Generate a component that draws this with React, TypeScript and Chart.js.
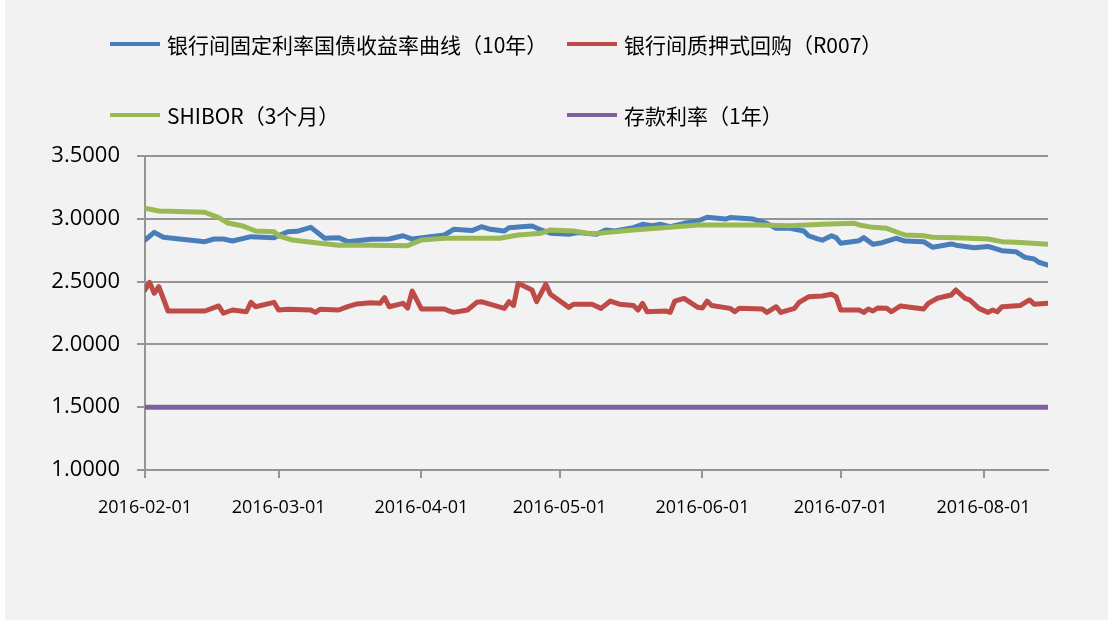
import React, { useEffect, useRef } from "react";
import { Chart, registerables } from "chart.js";

Chart.register(...registerables);

// Day offsets are counted from 2016-02-01 (day 0).
const monthTickDays = [0, 29, 60, 90, 121, 151, 182];
const monthTickLabels = ["2016-02-01", "2016-03-01", "2016-04-01", "2016-05-01", "2016-06-01", "2016-07-01", "2016-08-01"];
const lastDay = 196;

const seriesNames = ["银行间固定利率国债收益率曲线（10年）", "银行间质押式回购（R007）", "SHIBOR（3个月）", "存款利率（1年）"];
const seriesColors = ["#4A7EBB", "#BE4B48", "#98B954", "#7D60A0"];

const bondDays = [0, 2, 4, 13, 15, 17, 19, 23, 28, 31, 33, 36, 39, 42, 44, 49, 53, 56, 58, 65, 67, 71, 73, 75, 78, 79, 81, 84, 86, 88, 92, 94, 98, 100, 102, 106, 108, 110, 112, 114, 117, 120, 122, 126, 127, 132, 135, 137, 140, 143, 144, 146, 147, 149, 150, 151, 155, 156, 158, 160, 163, 165, 169, 171, 175, 176, 180, 183, 186, 189, 191, 193, 194, 196];
const bondValues = [2.831, 2.892, 2.853, 2.818, 2.839, 2.839, 2.823, 2.858, 2.85, 2.897, 2.9, 2.932, 2.845, 2.85, 2.818, 2.837, 2.839, 2.865, 2.839, 2.871, 2.916, 2.906, 2.937, 2.916, 2.903, 2.929, 2.934, 2.943, 2.911, 2.885, 2.877, 2.89, 2.877, 2.911, 2.903, 2.929, 2.956, 2.945, 2.956, 2.937, 2.964, 2.982, 3.012, 2.998, 3.01, 2.998, 2.964, 2.924, 2.924, 2.903, 2.865, 2.84, 2.83, 2.865, 2.85, 2.805, 2.826, 2.85, 2.797, 2.81, 2.845, 2.823, 2.818, 2.773, 2.8, 2.79, 2.77, 2.78, 2.746, 2.738, 2.693, 2.68, 2.654, 2.632];

const repoDays = [0, 1, 2, 3, 5, 13, 16, 17, 19, 22, 23, 24, 28, 29, 31, 36, 37, 38, 42, 44, 46, 49, 51, 52, 53, 56, 57, 58, 60, 65, 66, 67, 70, 72, 73, 78, 79, 80, 81, 84, 85, 87, 88, 92, 93, 97, 99, 101, 103, 106, 107, 108, 109, 113, 114, 115, 117, 120, 121, 122, 123, 127, 128, 129, 134, 135, 137, 138, 141, 142, 144, 147, 149, 150, 151, 155, 156, 157, 158, 159, 161, 162, 164, 169, 170, 172, 175, 176, 178, 179, 181, 183, 184, 185, 186, 190, 192, 193, 196];
const repoValues = [2.433, 2.494, 2.407, 2.459, 2.266, 2.266, 2.306, 2.248, 2.274, 2.26, 2.335, 2.3, 2.335, 2.274, 2.28, 2.274, 2.255, 2.28, 2.274, 2.3, 2.322, 2.332, 2.327, 2.372, 2.3, 2.327, 2.29, 2.425, 2.282, 2.282, 2.266, 2.255, 2.274, 2.335, 2.34, 2.287, 2.34, 2.31, 2.486, 2.433, 2.34, 2.479, 2.399, 2.295, 2.32, 2.32, 2.287, 2.345, 2.32, 2.31, 2.274, 2.327, 2.26, 2.266, 2.255, 2.345, 2.367, 2.295, 2.29, 2.345, 2.31, 2.287, 2.26, 2.287, 2.282, 2.255, 2.3, 2.255, 2.287, 2.335, 2.379, 2.385, 2.399, 2.38, 2.274, 2.274, 2.255, 2.282, 2.266, 2.29, 2.287, 2.26, 2.306, 2.282, 2.327, 2.367, 2.393, 2.433, 2.367, 2.354, 2.287, 2.255, 2.274, 2.26, 2.3, 2.31, 2.354, 2.32, 2.327];

const shiborDays = [0, 3, 13, 16, 18, 21, 24, 28, 29, 32, 37, 42, 49, 57, 60, 65, 77, 81, 86, 88, 93, 97, 106, 111, 120, 133, 140, 147, 154, 155, 158, 161, 163, 165, 169, 171, 176, 183, 186, 189, 196];
const shiborValues = [3.084, 3.062, 3.052, 3.009, 2.966, 2.945, 2.903, 2.897, 2.865, 2.831, 2.81, 2.79, 2.79, 2.786, 2.831, 2.845, 2.845, 2.871, 2.885, 2.911, 2.903, 2.88, 2.911, 2.924, 2.951, 2.951, 2.945, 2.956, 2.964, 2.951, 2.932, 2.924, 2.897, 2.871, 2.865, 2.853, 2.85, 2.839, 2.818, 2.813, 2.797];

const depositDays = [0, 196];
const depositValues = [1.5, 1.5];

const yMin = 1;
const yMax = 3.5;
const yStep = 0.5;

const toPoints = (days: number[], vals: number[]) => days.map((d, i) => ({ x: d, y: vals[i] }));

const legendPositions = [
  { left: 110, top: 45 },
  { left: 567, top: 45 },
  { left: 110, top: 116 },
  { left: 567, top: 116 },
];

export default function App() {
  const canvasRef = useRef<HTMLCanvasElement | null>(null);

  useEffect(() => {
    const canvas = canvasRef.current;
    if (!canvas) return;
    const gridColor = "#959595";
    const seriesData = [
      toPoints(bondDays, bondValues),
      toPoints(repoDays, repoValues),
      toPoints(shiborDays, shiborValues),
      toPoints(depositDays, depositValues),
    ];
    // later series drawn on top, as in the reference
    const drawOrder = [3, 2, 1, 0];
    const chart = new Chart(canvas, {
      type: "line",
      data: {
        datasets: seriesNames.map((name, i) => ({
          label: name,
          data: seriesData[i],
          borderColor: seriesColors[i],
          backgroundColor: seriesColors[i],
          borderWidth: 5,
          pointRadius: 0,
          pointHoverRadius: 0,
          tension: 0,
          fill: false,
          borderJoinStyle: "round" as const,
          borderCapStyle: "round" as const,
          order: drawOrder[i],
        })),
      },
      options: {
        responsive: false,
        animation: false,
        events: [],
        layout: { padding: { left: 0, top: 156, right: 61, bottom: 0 } },
        plugins: {
          legend: { display: false },
          tooltip: { enabled: false },
          title: { display: false },
        },
        scales: {
          x: {
            type: "linear",
            min: 0,
            max: lastDay,
            afterBuildTicks: (scale: any) => {
              scale.ticks = monthTickDays.map((v) => ({ value: v }));
            },
            afterFit: (scale: any) => {
              scale.height = 621 - 470;
            },
            ticks: {
              autoSkip: false,
              maxRotation: 0,
              minRotation: 0,
              padding: 19,
              color: "#000",
              font: { family: "'Open Sans', sans-serif", size: 18 },
              callback: (value: any) => {
                const idx = monthTickDays.indexOf(Number(value));
                return idx >= 0 ? monthTickLabels[idx] : "";
              },
            },
            grid: {
              drawOnChartArea: false,
              drawTicks: true,
              tickLength: 8,
              color: gridColor,
              lineWidth: 2,
            },
            border: { display: true, color: gridColor, width: 2 },
          },
          y: {
            type: "linear",
            min: yMin,
            max: yMax,
            afterFit: (scale: any) => {
              scale.width = 145;
            },
            ticks: {
              stepSize: yStep,
              padding: 17,
              color: "#000",
              font: { family: "'Open Sans', sans-serif", size: 22 },
              callback: (value: any) => Number(value).toFixed(4),
            },
            grid: {
              drawOnChartArea: true,
              drawTicks: true,
              tickLength: 8,
              color: gridColor,
              lineWidth: 2,
            },
            border: { display: true, color: gridColor, width: 2 },
          },
        },
      },
    });
    return () => chart.destroy();
  }, []);

  return (
    <div style={{ position: "absolute", left: 0, top: 0, width: 1109, height: 621, background: "#ffffff" }}>
      <div style={{ position: "absolute", left: 5, top: 0, width: 1103, height: 620, background: "#f2f2f2" }} />
      <canvas ref={canvasRef} width={1109} height={621} style={{ position: "absolute", left: 0, top: 0, width: 1109, height: 621 }} />
      {seriesNames.map((name, i) => (
        <div
          key={name}
          style={{
            position: "absolute",
            left: legendPositions[i].left,
            top: legendPositions[i].top - 17,
            height: 32,
            display: "flex",
            alignItems: "center",
            whiteSpace: "nowrap",
            fontFamily: "'Noto Sans CJK SC', 'Open Sans', sans-serif",
            fontSize: 21,
            color: "#000",
          }}
        >
          <span style={{ display: "inline-block", width: 50, height: 4, background: seriesColors[i], marginRight: 7 }} />
          <span>{name}</span>
        </div>
      ))}
    </div>
  );
}
